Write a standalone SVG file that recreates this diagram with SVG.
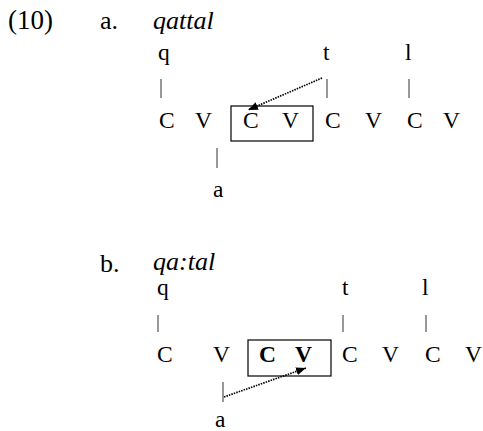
<svg xmlns="http://www.w3.org/2000/svg" width="483" height="431" viewBox="0 0 483 431">
<style>
text{font-family:"Liberation Serif","Times New Roman",serif;font-size:23.5px;fill:#000}
.h{font-size:26px}
.n{font-size:27px}
.i{font-style:italic}
.b{font-weight:bold}
.bar{stroke:#333;stroke-width:1}
.box{fill:none;stroke:#000;stroke-width:1.2}
.dot{stroke:#000;stroke-width:1.7;stroke-dasharray:1.5 1.1;fill:none}
</style>
<defs>
<marker id="ah" markerUnits="userSpaceOnUse" markerWidth="12" markerHeight="10" refX="10" refY="4" orient="auto">
<path d="M0,0 L10,4 L0,8 Z" fill="#000"/>
</marker>
</defs>
<rect width="483" height="431" fill="#fff"/>
<g id="ex10a">
<text class="n" x="8" y="29">(10)</text>
<text class="h" x="100" y="29">a.</text>
<text class="h i" x="153" y="29">qattal</text>
</g>
<g id="a-melody">
<text x="158" y="60">q</text>
<text x="323" y="60">t</text>
<text x="405" y="60">l</text>
</g>
<g id="a-skeleton">
<text x="159" y="128">C</text>
<text x="195" y="128">V</text>
<g id="a-box">
<rect class="box" x="231" y="106" width="82" height="35"/>
<text x="243" y="128">C</text>
<text x="282" y="128">V</text>
</g>
<text x="325" y="128">C</text>
<text x="365" y="128">V</text>
<text x="407" y="128">C</text>
<text x="443" y="128">V</text>
</g>
<g id="a-vowel">
<text x="213" y="197">a</text>
</g>
<g id="ex10b">
<text class="h" x="100" y="272">b.</text>
<text class="h i" x="153" y="270">qa:tal</text>
</g>
<g id="b-melody">
<text x="157" y="295">q</text>
<text x="342" y="295">t</text>
<text x="422" y="295">l</text>
</g>
<g id="b-skeleton">
<text x="157" y="362">C</text>
<text x="213" y="362">V</text>
<g id="b-box">
<rect class="box" x="248" y="340" width="83" height="36"/>
<text class="b" x="259" y="362">C</text>
<text class="b" x="295" y="362">V</text>
</g>
<text x="342" y="362">C</text>
<text x="382" y="362">V</text>
<text x="425" y="362">C</text>
<text x="465" y="362">V</text>
</g>
<g id="b-vowel">
<text x="215" y="427">a</text>
</g>
<g id="connectors">
<line class="bar" x1="161" y1="79" x2="161" y2="98"/>
<line class="bar" x1="327" y1="79" x2="327" y2="98"/>
<line class="bar" x1="409" y1="79" x2="409" y2="98"/>
<line class="bar" x1="217" y1="148" x2="217" y2="168"/>
<line class="dot" x1="322" y1="78" x2="248" y2="110" marker-end="url(#ah)"/>
<line class="bar" x1="158" y1="315" x2="158" y2="332"/>
<line class="bar" x1="343" y1="315" x2="343" y2="332"/>
<line class="bar" x1="426" y1="315" x2="426" y2="332"/>
<line class="bar" x1="223" y1="382" x2="223" y2="402"/>
<line class="dot" x1="224" y1="397" x2="306" y2="368" marker-end="url(#ah)"/>
</g>
</svg>
